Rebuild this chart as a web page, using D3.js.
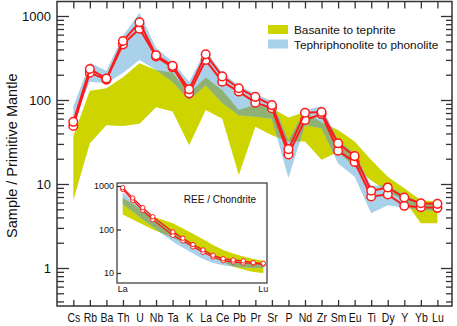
<!DOCTYPE html>
<html>
<head>
<meta charset="utf-8">
<script src="https://cdn.jsdelivr.net/npm/d3@7"></script>
<style>
body { margin: 0; background: #fff; }
svg { display: block; font-family: "Liberation Sans", Arial, sans-serif; }
</style>
</head>
<body>
<script>
// spider diagram: sample / primitive mantle
var elements = ["Cs","Rb","Ba","Th","U","Nb","Ta","K","La","Ce","Pb","Pr","Sr","P","Nd","Zr","Sm","Eu","Ti","Dy","Y","Yb","Lu"];

var basaniteHi = [37, 129, 138, 186, 273, 228, 211, 120, 185, 131, 76, 88, 80, 62, 72, 54, 44, 32, 19.3, 12.2, 8.9, 6.4, 6.2];
var basaniteLo = [6.4, 30.5, 50, 49, 52, 82, 73, 29, 76, 60, 12.8, 48, 38, 32, 32, 19.5, 24, 16, 11, 8.1, 6.4, 3.4, 3.4];
var phonoliteHi = [83, 278, 223, 578, 1094, 420, 286, 165, 390, 210, 150, 118, 97, 33, 76, 84, 33, 23, 9.5, 9.6, 7.4, 6.0, 5.7];
var phonoliteLo = [58, 165, 158, 210, 299, 228, 164, 100, 150, 92, 66, 63, 60, 11.8, 50, 46, 17.5, 12.2, 4.5, 5.6, 5.2, 4.9, 4.8];

var sampleA = [55, 234, 180, 504, 841, 340, 255, 134, 350, 191, 138, 109, 87, 26, 70.6, 72, 30.5, 21.5, 8.3, 9.1, 6.9, 5.9, 5.8];
var sampleB = [49, 211, 175, 460, 706, 330, 245, 120, 299, 165, 126, 93, 80, 22.5, 57.8, 68, 24.9, 18.3, 7.1, 7.5, 5.5, 5.3, 5.2];

var yMajor = [1, 10, 100, 1000];

// inset: REE / chondrite (Pm left empty)
var ree = ["La","Ce","Pr","Nd","Pm","Sm","Eu","Gd","Tb","Dy","Ho","Er","Tm","Yb","Lu"];
var reeBasHi = [530, 390, 270, 200, null, 140, 105, 80, 60, 44, 34, 28, 24, 21, 19];
var reeBasLo = [220, 170, 130, 100, null, 65, 50, 38, 30, 22, 18, 14, 12, 10.5, 10];
var reePhoHi = [720, 450, 290, 190, null, 90, 65, 46, 34, 26, 21, 19, 18, 17, 16];
var reePhoLo = [380, 260, 170, 115, null, 52, 38, 28, 21, 17, 15, 14, 13.5, 13, 13];
var reeA = [915, 530, 317, 197, null, 88, 63, 45, 34, 25.5, 21.3, 19.9, 19, 17.3, 16.7];
var reeB = [840, 469, 276, 168, null, 73, 55, 40, 30, 23.3, 19.2, 17.9, 17, 16.7, 15.9];
var reeTicks = [10, 100, 1000];

var yellow = "#cdd400", blue = "#a9d1ea", green = "#8fb274", red = "#ff1a1a", ink = "#333";

var width = 457, height = 326;
var svg = d3.select("body").append("svg")
  .attr("width", width)
  .attr("height", height);

var fr = {left: 57, right: 452, top: 1.5, bottom: 306};

var x = d3.scalePoint().domain(elements).range([73.3, 437.4]);
var y = d3.scaleLog().domain([1, 1000]).range([268, 16]);

function rows(hi, lo, labels) {
  return labels.map(function(e, i) { return {el: e, hi: hi[i], lo: lo[i]}; })
    .filter(function(d) { return d.hi != null; });
}

function drawBands(g, xs, ys, basHi, basLo, phoHi, phoLo, labels, id) {
  var area = d3.area()
    .x(function(d) { return xs(d.el); })
    .y0(function(d) { return ys(d.lo); })
    .y1(function(d) { return ys(d.hi); });
  var bas = rows(basHi, basLo, labels), pho = rows(phoHi, phoLo, labels);
  g.append("clipPath").attr("id", id)
    .append("path").attr("d", area(pho));
  g.append("path").attr("d", area(bas)).attr("fill", yellow);
  g.append("path").attr("d", area(pho)).attr("fill", blue);
  // overlap of both fields
  g.append("path").attr("d", area(bas)).attr("fill", green)
    .attr("clip-path", "url(#" + id + ")");
}

function drawSample(g, xs, ys, vals, labels, r, sw) {
  var pts = labels.map(function(e, i) { return {el: e, v: vals[i]}; })
    .filter(function(d) { return d.v != null; });
  g.append("path")
    .datum(pts)
    .attr("d", d3.line().x(function(d) { return xs(d.el); }).y(function(d) { return ys(d.v); }))
    .attr("fill", "none")
    .attr("stroke", red)
    .attr("stroke-width", sw);
  g.selectAll(null).data(pts).enter().append("circle")
    .attr("cx", function(d) { return xs(d.el); })
    .attr("cy", function(d) { return ys(d.v); })
    .attr("r", r)
    .attr("fill", "#fff")
    .attr("stroke", red)
    .attr("stroke-width", sw * 0.75);
}

var plot = svg.append("g");
drawBands(plot, x, y, basaniteHi, basaniteLo, phonoliteHi, phonoliteLo, elements, "clipMain");
drawSample(plot, x, y, sampleB, elements, 4.3, 2);
drawSample(plot, x, y, sampleA, elements, 4.3, 2);

// minor ticks on log axis
var yDomain = [y.invert(fr.bottom), y.invert(fr.top)];
var yMinor = [];
[-1, 0, 1, 2, 3].forEach(function(e) {
  d3.range(2, 10).forEach(function(k) {
    var v = k * Math.pow(10, e);
    if (v > yDomain[0] && v < yDomain[1]) yMinor.push(v);
  });
});

function styleAxis(g) {
  g.select(".domain").remove();
  g.selectAll(".tick line").attr("stroke", ink).attr("stroke-width", 1.3);
  g.selectAll("text").attr("fill", "#111");
}

svg.append("g").attr("transform", "translate(" + fr.left + ",0)")
  .call(d3.axisLeft(y).tickValues(yMajor).tickSizeInner(-12).tickSizeOuter(0).tickPadding(6)
    .tickFormat(d3.format("d")))
  .call(styleAxis)
  .selectAll("text").attr("font-size", 13);
svg.append("g").attr("transform", "translate(" + fr.left + ",0)")
  .call(d3.axisLeft(y).tickValues(yMinor).tickSizeInner(-7).tickSizeOuter(0).tickFormat(""))
  .call(styleAxis);
svg.append("g").attr("transform", "translate(" + fr.right + ",0)")
  .call(d3.axisRight(y).tickValues(yMajor).tickSizeInner(-11).tickSizeOuter(0).tickFormat(""))
  .call(styleAxis);
svg.append("g").attr("transform", "translate(" + fr.right + ",0)")
  .call(d3.axisRight(y).tickValues(yMinor).tickSizeInner(-6).tickSizeOuter(0).tickFormat(""))
  .call(styleAxis);

svg.append("g").attr("transform", "translate(0," + fr.bottom + ")")
  .call(d3.axisBottom(x).tickSizeInner(-6).tickSizeOuter(0).tickPadding(7))
  .call(styleAxis)
  .selectAll("text")
    .attr("font-size", 12.5)
    .attr("transform", "scale(0.84,1)");
svg.append("g").attr("transform", "translate(0," + fr.top + ")")
  .call(d3.axisBottom(x).tickSizeInner(7).tickSizeOuter(0).tickFormat(""))
  .call(styleAxis);

svg.append("rect")
  .attr("x", fr.left).attr("y", fr.top)
  .attr("width", fr.right - fr.left).attr("height", fr.bottom - fr.top)
  .attr("fill", "none").attr("stroke", ink).attr("stroke-width", 1.5);

svg.append("text")
  .attr("transform", "translate(17," + ((fr.top + fr.bottom) / 2 + 2) + ") rotate(-90)")
  .attr("text-anchor", "middle")
  .attr("font-size", 14.5)
  .attr("fill", "#111")
  .text("Sample / Primitive Mantle");

// legend
var legendItems = [{label: "Basanite to tephrite", color: yellow}, {label: "Tephriphonolite to phonolite", color: blue}];
var legend = svg.append("g").attr("transform", "translate(268,25)");
legend.selectAll("rect").data(legendItems).enter().append("rect")
  .attr("x", 0).attr("y", function(d, i) { return i * 14.5; })
  .attr("width", 20).attr("height", 9)
  .attr("fill", function(d) { return d.color; });
legend.selectAll("text").data(legendItems).enter().append("text")
  .attr("x", 26).attr("y", function(d, i) { return i * 14.5 + 9; })
  .attr("font-size", 11.8)
  .attr("fill", "#111")
  .text(function(d) { return d.label; });

// inset
var ins = {left: 117, right: 267, top: 183, bottom: 283};
var xi = d3.scalePoint().domain(ree).range([122.7, 263.3]);
var yi = d3.scaleLog().domain([10, 1000]).range([273, 186]);

var inset = svg.append("g");
inset.append("rect")
  .attr("x", ins.left).attr("y", ins.top)
  .attr("width", ins.right - ins.left).attr("height", ins.bottom - ins.top)
  .attr("fill", "#fff");
drawBands(inset, xi, yi, reeBasHi, reeBasLo, reePhoHi, reePhoLo, ree, "clipInset");
drawSample(inset, xi, yi, reeB, ree, 2.2, 1.3);
drawSample(inset, xi, yi, reeA, ree, 2.2, 1.3);
inset.append("rect")
  .attr("x", ins.left).attr("y", ins.top)
  .attr("width", ins.right - ins.left).attr("height", ins.bottom - ins.top)
  .attr("fill", "none").attr("stroke", ink).attr("stroke-width", 1.2);

inset.append("g").attr("transform", "translate(" + ins.left + ",0)")
  .call(d3.axisLeft(yi).tickValues(reeTicks).tickSizeInner(-4).tickSizeOuter(0).tickPadding(3)
    .tickFormat(d3.format("d")))
  .call(styleAxis)
  .selectAll("text").attr("font-size", 9);

inset.selectAll(".endLabel").data([ree[0], ree[ree.length - 1]]).enter().append("text")
  .attr("x", function(d) { return xi(d); })
  .attr("y", 292)
  .attr("text-anchor", "middle")
  .attr("font-size", 9)
  .attr("fill", "#111")
  .text(function(d) { return d; });

inset.append("text")
  .attr("x", 220).attr("y", 203)
  .attr("text-anchor", "middle")
  .attr("font-size", 10)
  .attr("fill", "#111")
  .text("REE / Chondrite");
</script>
</body>
</html>
